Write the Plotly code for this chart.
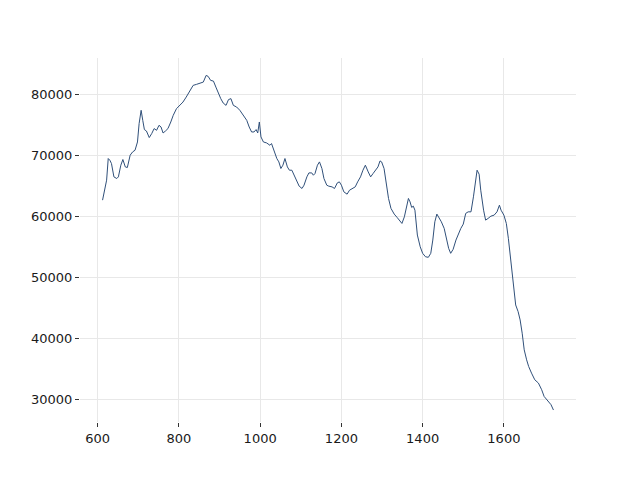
import plotly.graph_objects as go

x_vals = [612, 618, 622, 626, 630, 634, 640, 647, 651, 657, 662, 668, 673, 680, 686, 692, 698, 702, 707, 711,
          715, 720, 727, 733, 739, 745, 751, 756, 761, 767, 773, 780, 786, 794, 802, 810, 818, 827, 835, 843,
          851, 860, 867, 872, 878, 885, 891, 897, 903, 909, 916, 922, 928, 934, 942, 950, 958, 967, 973, 979,
          985, 990, 994, 998, 1002, 1008, 1016, 1024, 1028, 1035, 1041, 1046, 1051, 1056, 1061, 1067, 1072, 1078,
          1084, 1090, 1096, 1103, 1108, 1115, 1120, 1127, 1131, 1135, 1141, 1146, 1152, 1157, 1164, 1169, 1177,
          1183, 1190, 1195, 1200, 1206, 1214, 1220, 1226, 1234, 1240, 1247, 1253, 1259, 1266, 1272, 1278, 1284,
          1290, 1295, 1299, 1305, 1311, 1316, 1322, 1330, 1337, 1343, 1349, 1355, 1361, 1365, 1369, 1373, 1377,
          1381, 1387, 1394, 1400, 1407, 1414, 1420, 1425, 1430, 1435, 1441, 1446, 1453, 1459, 1464, 1469, 1475,
          1482, 1488, 1494, 1500, 1506, 1512, 1519, 1525, 1530, 1534, 1539, 1543, 1550, 1555, 1561, 1568, 1576,
          1583, 1589, 1593, 1600, 1606, 1611, 1616, 1620, 1625, 1629, 1635, 1640, 1645, 1650, 1656, 1661, 1668,
          1676, 1685, 1693, 1699, 1708, 1716, 1722]
y_vals = [62640, 64810, 65910, 69450, 69170, 68630, 66450, 66180, 66450, 68360, 69290, 68080, 67980, 70000, 70530,
          70810, 72160, 75170, 77340, 75700, 74190, 73960, 72880, 73530, 74350, 74070, 74890, 74610, 73630, 73960,
          74350, 75430, 76520, 77610, 78150, 78690, 79510, 80600, 81420, 81580, 81700, 81960, 83050, 82890, 82240,
          82120, 81140, 80070, 79250, 78530, 78150, 79090, 79250, 78150, 77880, 77340, 76520, 75700, 74610, 73790,
          73800, 74190, 73630, 75430, 72980, 72160, 72000, 71620, 71900, 70530, 69450, 68900, 67820, 68360, 69450,
          68080, 67540, 67540, 66720, 65910, 64930, 64550, 65090, 66450, 67100, 67100, 66720, 67000, 68360, 68900,
          67820, 66180, 65090, 64930, 64810, 64550, 65470, 65630, 65090, 64000, 63620, 64270, 64550, 64810, 65630,
          66450, 67540, 68360, 67260, 66450, 67000, 67540, 68080, 69060, 68900, 67820, 65370, 62920, 61290, 60360,
          59820, 59260, 58830, 59910, 61820, 62920, 62360, 61450, 61660, 61000, 56930, 55010, 53940, 53380, 53290,
          53940, 56110, 59100, 60360, 59650, 59100, 58020, 56390, 54750, 53940, 54590, 56110, 57200, 58020, 58720,
          60470, 60730, 60730, 63180, 65630, 67540, 66890, 64270, 61000, 59370, 59650, 60020, 60190, 60730, 61820,
          61000, 60190, 58830, 56390, 53380, 49850, 47950, 45490, 44400, 43040, 40870, 38150, 36510, 35420, 34340,
          33250, 32710, 31620, 30520, 29700, 29170, 28300]

x_ticks = [600, 800, 1000, 1200, 1400, 1600]
y_ticks = [30000, 40000, 50000, 60000, 70000, 80000]

fig = go.Figure()
fig.add_trace(go.Scatter(x=x_vals, y=y_vals, mode="lines",
                         line=dict(color="#30507a", width=1), showlegend=False))

axis_common = dict(showline=False, zeroline=False, showgrid=True, gridcolor="#e8e8e8", gridwidth=1.2,
                   ticks="outside", ticklen=4, tickwidth=1, tickcolor="#333333",
                   tickfont=dict(family="DejaVu Sans", size=13, color="#1a1a1a"))

fig.update_xaxes(range=[556.5, 1777.5], tickvals=x_ticks, ticktext=[str(v) for v in x_ticks], **axis_common)
fig.update_yaxes(range=[26340, 85900], tickvals=y_ticks, ticktext=[str(v) for v in y_ticks], **axis_common)

fig.update_layout(width=632, height=472, margin=dict(l=72, r=64, t=50, b=58),
                  plot_bgcolor="white", paper_bgcolor="white")

fig.write_html("out.html")
